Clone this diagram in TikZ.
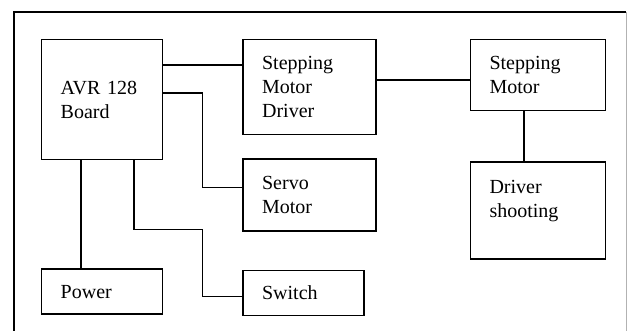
\documentclass[tikz,border=0pt]{standalone}
\usepackage{fontspec}
\setmainfont{Liberation Serif}
\usetikzlibrary{positioning}
\tikzset{
x=1pt, y=1pt, % one unit is one pixel of the drawing
block/.style={draw, line width=1.4pt, align=left, inner xsep=19pt, inner ysep=0pt,
  font=\fontsize{20}{24}\selectfont}, % sets the properties for each box
wire/.style={line width=1.4pt}, % the plain lines between boxes
}
\begin{document}
\begin{tikzpicture}
                \useasboundingbox (0,0) rectangle (627,-331);
                \draw[line width=1.4pt] (14,-331) -- (14,-12) -- (626,-12);
                \draw[line width=1pt, gray!60] (626,-12) -- (626,-331);
                \node[block, anchor=north west, text width=83pt, minimum height=120pt] (avr_board) at (41,-39) {AVR 128\\Board};
                \node[block, right=79pt of avr_board.north east, anchor=north west, text width=95pt, minimum height=95pt] (step_driver) {Stepping\\Motor\\Driver};
                \node[block, right=93pt of step_driver.north east, anchor=north west, text width=97pt, minimum height=71pt] (step_motor) {Stepping\\Motor};
                \node[block, below=50pt of step_motor.south west, anchor=north west, text width=97pt, minimum height=97pt] (driver_shoot) {Driver\\shooting\\\mbox{}};
                \node[block, below=23pt of step_driver.south west, anchor=north west, text width=95pt, minimum height=72pt] (servo_motor) {Servo\\Motor};
                \node[block, below=38pt of servo_motor.south west, anchor=north west, text width=83pt, minimum height=45pt] (switch_sw) {Switch};
                \node[block, below=108pt of avr_board.south west, anchor=north west, text width=83pt, minimum height=45pt] (power) {Power};
                \draw[wire]
                    ([yshift=-26pt]avr_board.north east) -- ([yshift=-26pt]step_driver.north west)
                    ([yshift=-54pt]avr_board.north east) -| ([xshift=-40pt,yshift=-29pt]servo_motor.north west) -- ([yshift=-29pt]servo_motor.north west)
                    ([yshift=-41pt]step_driver.north east) -- ([yshift=-41pt]step_motor.north west)
                    ([xshift=54pt]step_motor.south west) -- ([xshift=54pt]driver_shoot.north west)
                    ([xshift=40pt]avr_board.south west) -- ([xshift=40pt]power.north west)
                    ([xshift=93pt]avr_board.south west) |- ([xshift=-40pt,yshift=40pt]switch_sw.north west) |- ([yshift=-27pt]switch_sw.north west)
                    ;
                \end{tikzpicture}
\end{document}
